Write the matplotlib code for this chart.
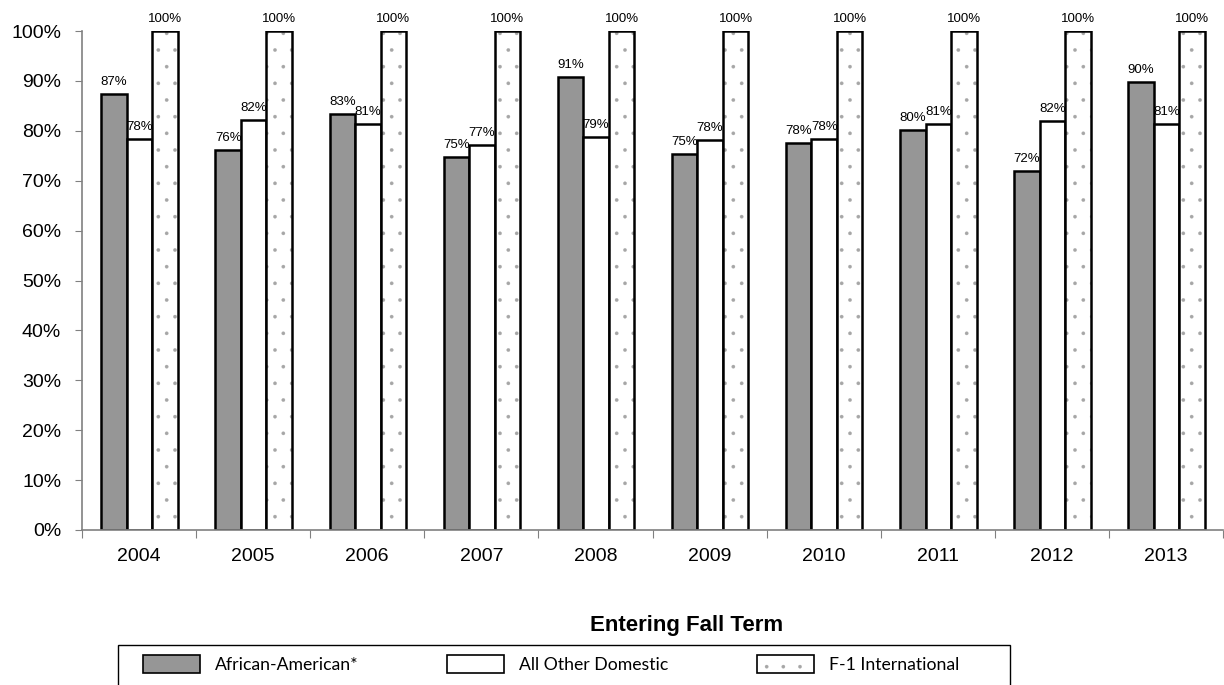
import numpy as np
import matplotlib
matplotlib.use("Agg")
import matplotlib.pyplot as plt
from matplotlib.patches import Patch, Rectangle

# Retention rate by entering fall term
years = ['2004', '2005', '2006', '2007', '2008', '2009', '2010', '2011', '2012', '2013']
african_american = [87.3, 76.2, 83.4, 74.8, 90.8, 75.3, 77.6, 80.2, 72.0, 89.8]
other_domestic = [78.3, 82.2, 81.3, 77.2, 78.8, 78.2, 78.3, 81.3, 82.0, 81.4]
f1_international = [100, 100, 100, 100, 100, 100, 100, 100, 100, 100]
series_names = ['African-American*', 'All Other Domestic', 'F-1 International']

plt.rcParams['font.family'] = ['Liberation Sans', 'Arimo', 'DejaVu Sans']
plt.rcParams['hatch.linewidth'] = 0.2

DOT_GRAY = '#a6a6a6'
W, H = 1224, 685
fig = plt.figure(figsize=(W / 100, H / 100), dpi=100)
ax = fig.add_axes([82 / W, 1 - 530 / H, 1141 / W, 499 / H])

x = np.arange(len(years))
w = 0.2235
fills = ['#969696', 'white', 'white']
for k, vals in enumerate([african_american, other_domestic, f1_international]):
    pos = x + (k - 1) * w + 0.005
    if k == 2:
        # dotted fill first (hatch takes the edge colour), black outline on top
        ax.bar(pos, vals, width=w, facecolor='white', edgecolor=DOT_GRAY,
               linewidth=0, hatch='.')
        ax.bar(pos, vals, width=w, facecolor='none', edgecolor='black',
               linewidth=1.8)
    else:
        ax.bar(pos, vals, width=w, facecolor=fills[k], edgecolor='black',
               linewidth=1.8)
    for xp, v in zip(pos, vals):
        ax.text(xp, v + 1.2, f'{v:.0f}%', ha='center', va='bottom',
                fontsize=9.5, clip_on=False)

ax.set_xlim(-0.5, len(years) - 0.5)
ax.set_ylim(0, 100)
ax.set_yticks(np.arange(0, 101, 10))
ax.set_yticklabels([f'{t}%' for t in range(0, 101, 10)])

# year labels sit between the group-boundary tick marks
ax.set_xticks(np.arange(len(years) + 1) - 0.5)
ax.set_xticklabels([])
ax.set_xticks(x, minor=True)
ax.set_xticklabels(years, minor=True)
ax.tick_params(axis='x', which='minor', length=0, pad=13, labelsize=14)
ax.tick_params(axis='x', which='major', length=6, color='#808080', direction='out')
ax.tick_params(axis='y', length=5, color='#808080', pad=10, labelsize=14)

for s in ['top', 'right']:
    ax.spines[s].set_visible(False)
for s in ['left', 'bottom']:
    ax.spines[s].set_color('#808080')
    ax.spines[s].set_linewidth(1.2)

fig.text(687 / W, 1 - 625 / H, 'Entering Fall Term', ha='center', va='center',
         fontsize=16, fontweight='bold')

# legend box along the bottom edge
fig.patches.append(Rectangle((118 / W, 1 - 690 / H), 892 / W, 45 / H,
                             transform=fig.transFigure, facecolor='white',
                             edgecolor='black', linewidth=1.0))
handles = [
    Patch(facecolor=fills[0], edgecolor='black', linewidth=1.2),
    Patch(facecolor=fills[1], edgecolor='black', linewidth=1.2),
    (Patch(facecolor='white', edgecolor=DOT_GRAY, linewidth=0, hatch='.'),
     Patch(facecolor='none', edgecolor='black', linewidth=1.2)),
]
fig.legend(handles, series_names, loc='center left', ncol=3,
           bbox_to_anchor=(143 / W, 1 - 664 / H),
           frameon=False, prop={'family': 'Lato', 'size': 12.7},
           handlelength=3.25, handleheight=1.24, handletextpad=0.85,
           columnspacing=5.0, borderpad=0, borderaxespad=0)

fig.savefig('out.png', dpi=100)
